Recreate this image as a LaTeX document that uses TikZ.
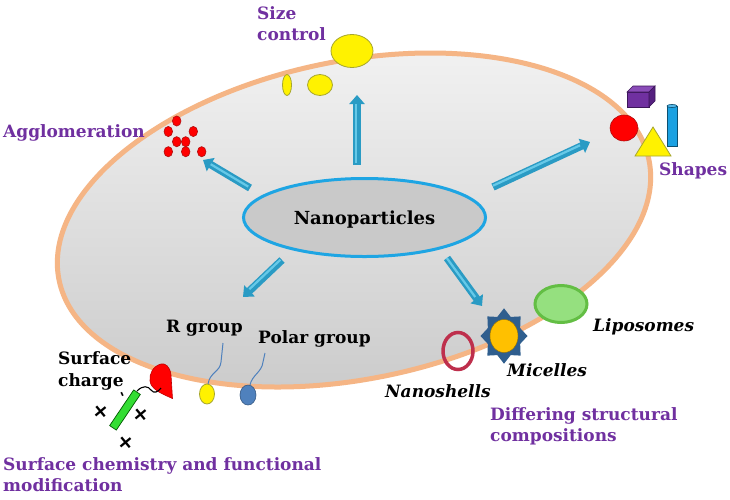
\documentclass[tikz,border=0pt]{standalone}
\usepackage{fontspec}
\setmainfont{DejaVu Serif}
\usetikzlibrary{arrows.meta,shapes.geometric}
\definecolor{peach}{HTML}{F5B585}
\definecolor{npblue}{HTML}{1EA5E3}
\definecolor{lab}{HTML}{7030A0}
\definecolor{arrdark}{HTML}{2A9BC4}
\definecolor{arrlight}{HTML}{66C9E8}
\definecolor{yelb}{HTML}{A6A62E}
\definecolor{redb}{HTML}{B01010}
\definecolor{cubefront}{HTML}{7030A0}
\definecolor{cubetop}{HTML}{8A4CB8}
\definecolor{cubeside}{HTML}{55207F}
\definecolor{cyl}{HTML}{1BA1E2}
\definecolor{polar}{HTML}{4F81BD}
\definecolor{shell}{HTML}{BE2F4C}
\definecolor{micblue}{HTML}{2F5E8E}
\definecolor{micorange}{HTML}{FFC000}
\definecolor{lipofill}{HTML}{95E07F}
\definecolor{lipodraw}{HTML}{63BE44}
\definecolor{barg}{HTML}{33DD33}
\begin{document}
\begin{tikzpicture}[x=1pt,y=-1pt,
  lbl/.style={font=\fontsize{17}{21.5}\selectfont\bfseries, text=lab, inner sep=0pt, align=left},
  blk/.style={font=\fontsize{17}{22}\selectfont\bfseries, text=black, inner sep=0pt, align=left},
  blki/.style={font=\fontsize{17}{22}\selectfont\bfseries\itshape, text=black, inner sep=0pt},
  bigarrow/.style={line width=7.5pt, draw=arrdark, -{Triangle[width=15pt,length=9pt]}},
  arrhi/.style={line width=2.2pt, draw=arrlight, shorten >=10pt, shorten <=1pt,
                transform canvas={shift={(-0.9pt,0.9pt)}}},
  yelshape/.style={fill=yellow, draw=yelb, line width=0.8pt},
  reddot/.style={fill=red, draw=redb, line width=0.6pt},
  sign/.style={font=\fontsize{21}{21}\selectfont\bfseries, inner sep=0pt},
  minus/.style={font=\fontsize{13}{13}\selectfont\bfseries, inner sep=0pt}
]
\useasboundingbox (0,0) rectangle (730,499);
\fill[white] (0,0) rectangle (730,499);

% big ellipse
\draw[line width=5pt, draw=peach, top color=black!6, bottom color=black!21,
      shift={(354,220)}, rotate=11.5] (0,0) ellipse [x radius=301, y radius=159];

% arrow end points
\coordinate (a1s) at (250,188); \coordinate (a1e) at (203,160);
\coordinate (a2s) at (357,165); \coordinate (a2e) at (357,95);
\coordinate (a3s) at (493,187); \coordinate (a3e) at (590,142);
\coordinate (a4s) at (282,260); \coordinate (a4e) at (243,297);
\coordinate (a5s) at (447,258); \coordinate (a5e) at (482,306);
\foreach \s/\e in {a1s/a1e,a2s/a2e,a3s/a3e,a4s/a4e,a5s/a5e}{
  \draw[bigarrow] (\s) -- (\e);
  \draw[arrhi] (\s) -- (\e);
}

% central node
\node[ellipse, draw=npblue, line width=3pt, fill=black!21, minimum width=242pt,
      minimum height=78pt, inner sep=0pt, text depth=0pt,
      font=\fontsize{18}{18}\selectfont\bfseries] (np) at (364.5,217.5) {Nanoparticles};

% size control
\draw[yelshape] (287,85) ellipse [x radius=4.5, y radius=10.5];
\draw[yelshape] (320,85) ellipse [x radius=12.5, y radius=10.5];
\draw[yelshape] (352,51) ellipse [x radius=21, y radius=16.5];
\node[lbl, anchor=north west] (sc) at (257,6) {Size\\control};

% agglomeration
\foreach \p in {(176.7,121),(168.3,131.5),(193.3,131.5),(176.7,141.7),(185.7,141.7),(168.3,151.7),(185.7,151.7),(201.7,151.7)}
  \draw[reddot] \p ellipse [x radius=4.3, y radius=5.1];
\node[lbl, anchor=base west] (ag) at (3,137) {Agglomeration};

% shapes
\draw[fill=cubefront, draw=cubeside!70!black, line width=0.6pt] (627,92) rectangle (649,107);
\draw[fill=cubetop, draw=cubeside!70!black, line width=0.6pt] (627,92) -- (633,86) -- (655,86) -- (649,92) -- cycle;
\draw[fill=cubeside, draw=cubeside!70!black, line width=0.6pt] (649,92) -- (655,86) -- (655,101) -- (649,107) -- cycle;
\draw[fill=cyl, draw=cyl!50!black, line width=0.6pt] (667,106) rectangle (677,146);
\draw[fill=cyl!75!white, draw=cyl!50!black, line width=0.6pt] (672,106) ellipse [x radius=5, y radius=1.6];
\draw[reddot] (624,128) ellipse [x radius=14, y radius=13];
\draw[yelshape] (653,127) -- (635,156) -- (671,156) -- cycle;
\node[lbl, anchor=base west] (sh) at (659,175) {Shapes};

% surface chemistry
\draw[fill=red, draw=red!75!black, line width=0.6pt] (172.5,398.5) -- (171,375)
  .. controls (170,366) and (165,363) .. (161,364)
  .. controls (153,366) and (149,374) .. (150,381)
  .. controls (151,389) and (160,393) .. (172.5,398.5) -- cycle;
\draw[fill=barg, draw=green!35!black, line width=0.7pt, shift={(125,410)}, rotate=56] (-21.5,-4) rectangle (21.5,4);
\draw[black, line width=1.1pt] (137,391) .. controls (143,385) and (148,386) .. (151,390)
  .. controls (154,394) and (158,392) .. (161,388);
\node[sign, rotate=40] (p1) at (101,412) {+};
\node[sign, rotate=40] (p2) at (141,415) {+};
\node[sign, rotate=40] (p3) at (126,443) {+};
\node[minus, rotate=-65] (m1) at (121,395.5) {-};
\node[blk, anchor=north west] (sch) at (58,351) {Surface\\charge};

\draw[polar, line width=1pt] (208,384) .. controls (210,372) and (220,372) .. (221,362) -- (223,343);
\draw[yelshape] (207,394) ellipse [x radius=7.5, y radius=10];
\node[blk, anchor=base west] (rg) at (166,332) {R group};

\draw[polar, line width=1pt] (250,385) .. controls (252,375) and (262,372) .. (263,362) -- (265,353);
\draw[fill=polar, draw=polar!70!black, line width=0.6pt] (248,395) ellipse [x radius=8, y radius=10];
\node[blk, anchor=base west] (pg) at (258,343) {Polar group};

\node[lbl, anchor=north west] (scf) at (3,457) {Surface chemistry and functional\\modification};

% structural compositions
\draw[line width=3.5pt, draw=shell] (458,351) ellipse [x radius=15, y radius=18.5];
\fill[micblue, shift={(504,336)}, yscale=1.18] (0:23.5) \foreach \a in {0,45,...,315} { -- (\a+22.5:17.5) -- (\a+45:23.5) } -- cycle;
\draw[fill=micorange, draw=micorange!60!black, line width=0.4pt] (504,336) ellipse [x radius=14, y radius=16.5];
\draw[fill=lipofill, draw=lipodraw, line width=3pt] (561,304) ellipse [x radius=26, y radius=18.5];
\node[blki, anchor=base west] (lp) at (593,331) {Liposomes};
\node[blki, anchor=base west] (mc) at (507,376) {Micelles};
\node[blki, anchor=base west] (ns) at (385,397) {Nanoshells};
\node[lbl, anchor=north west] (dsc) at (490,407) {Differing structural\\compositions};
\end{tikzpicture}
\end{document}
